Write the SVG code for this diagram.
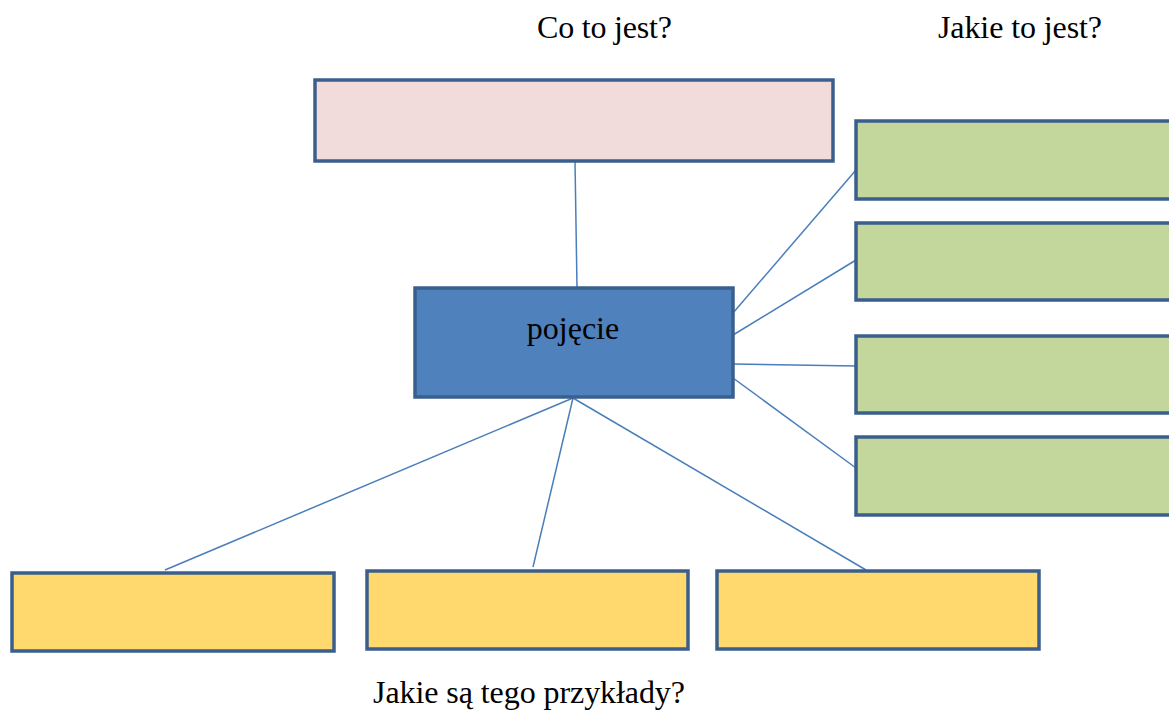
<svg xmlns="http://www.w3.org/2000/svg" width="1169" height="711" viewBox="0 0 1169 711">
<style>
.box{stroke:#3A5F8D;stroke-width:3.5;}
.pink{fill:#F2DCDB;}
.blue{fill:#4F81BD;}
.green{fill:#C3D69B;}
.yellow{fill:#FFD96E;}
.conn line{stroke:#4A7EBB;stroke-width:1.5;}
.t{font-family:"Liberation Serif","Times New Roman",serif;font-size:32px;fill:#000;}
</style>
<rect width="1169" height="711" fill="#fff"/>
<g id="connectors" class="conn">
<line x1="575" y1="161" x2="577" y2="287"/>
<line x1="733" y1="313" x2="856" y2="170"/>
<line x1="733" y1="335" x2="856" y2="260"/>
<line x1="733" y1="364" x2="856" y2="366"/>
<line x1="733" y1="378" x2="856" y2="468"/>
<line x1="573" y1="398" x2="165" y2="570"/>
<line x1="573" y1="398" x2="533" y2="567"/>
<line x1="573" y1="398" x2="866" y2="570"/>
</g>
<g id="label-co"><text class="t" x="537" y="38" textLength="135">Co to jest?</text></g>
<g id="label-jakie"><text class="t" x="938" y="38" textLength="164">Jakie to jest?</text></g>
<g id="node-top"><rect class="box pink" x="315" y="80" width="518" height="81"/></g>
<g id="node-center"><rect class="box blue" x="415" y="288" width="318" height="109"/>
<text class="t" x="573" y="339" text-anchor="middle">pojęcie</text></g>
<g id="node-g1"><rect class="box green" x="856" y="121" width="320" height="78"/></g>
<g id="node-g2"><rect class="box green" x="856" y="223" width="320" height="77"/></g>
<g id="node-g3"><rect class="box green" x="856" y="336" width="320" height="77"/></g>
<g id="node-g4"><rect class="box green" x="856" y="437" width="320" height="78"/></g>
<g id="node-y1"><rect class="box yellow" x="12" y="573" width="322" height="78"/></g>
<g id="node-y2"><rect class="box yellow" x="367" y="571" width="321" height="78"/></g>
<g id="node-y3"><rect class="box yellow" x="717" y="571" width="322" height="78"/></g>
<g id="label-przyklady"><text class="t" x="373" y="703" textLength="312">Jakie są tego przykłady?</text></g>
</svg>
